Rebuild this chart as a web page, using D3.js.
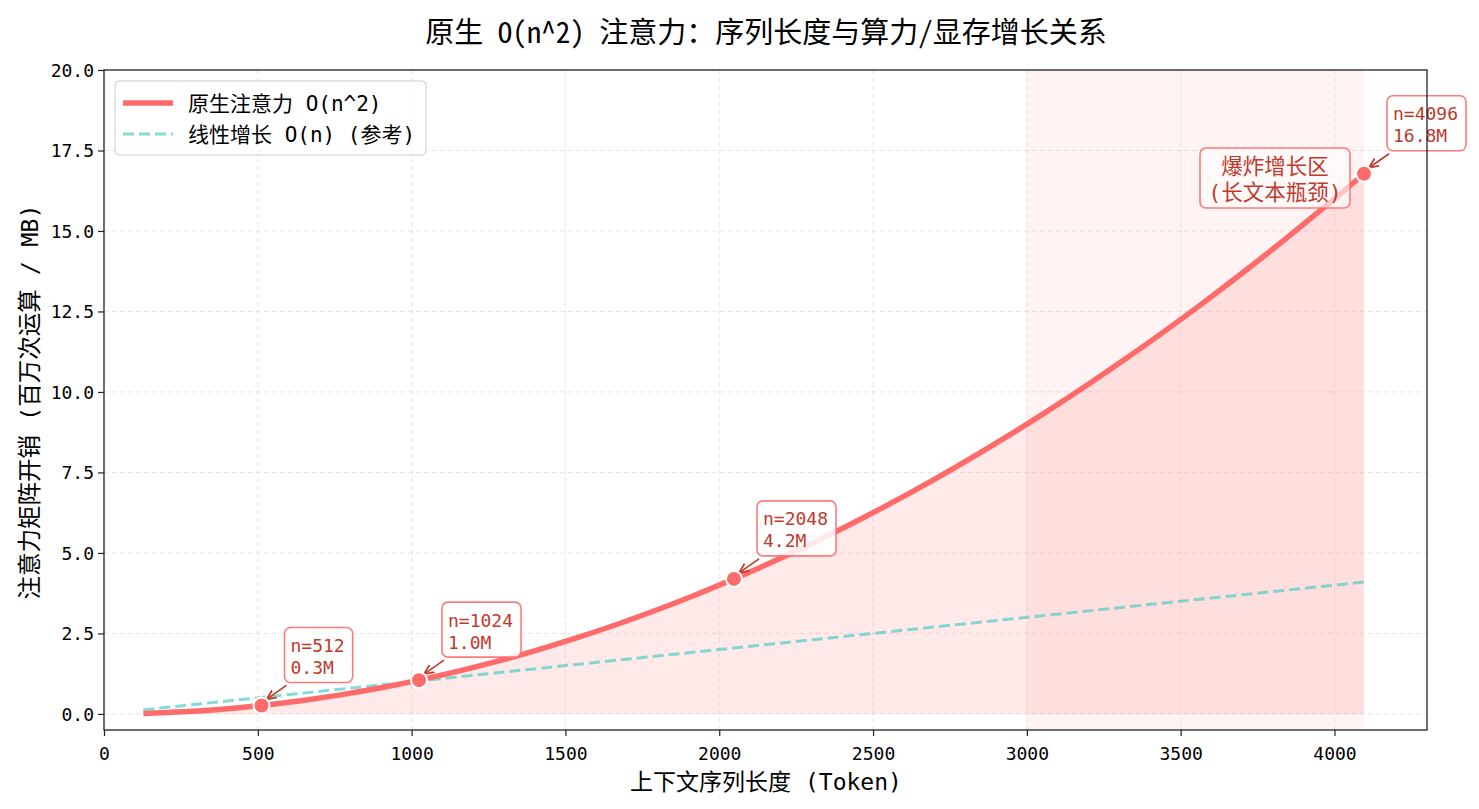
<!DOCTYPE html>
<html><head><meta charset="utf-8">
<script src="https://cdn.jsdelivr.net/npm/d3@7"></script>
<style>body{margin:0;background:#fff;} svg{font-family:"Noto Sans Mono CJK SC","Noto Sans CJK SC",sans-serif;}</style>
</head><body>
<svg id="c" width="1479" height="809"></svg>
<script>
const seqLens = [128,256,384,512,640,768,896,1024,1152,1280,1408,1536,1664,1792,1920,2048,2176,2304,2432,2560,2688,2816,2944,3072,3200,3328,3456,3584,3712,3840,3968,4096];
const quadCost = [0.016,0.066,0.147,0.262,0.410,0.590,0.803,1.049,1.327,1.638,1.983,2.359,2.769,3.211,3.686,4.194,4.735,5.308,5.915,6.554,7.225,7.930,8.667,9.437,10.240,11.076,11.944,12.845,13.779,14.746,15.745,16.777];
const linCost = [0.128,0.256,0.384,0.512,0.640,0.768,0.896,1.024,1.152,1.280,1.408,1.536,1.664,1.792,1.920,2.048,2.176,2.304,2.432,2.560,2.688,2.816,2.944,3.072,3.200,3.328,3.456,3.584,3.712,3.840,3.968,4.096];
const keyLens = [512,1024,2048,4096];
const keyCost = [0.262,1.049,4.194,16.777];
const keyLabels = ["0.3M","1.0M","4.2M","16.8M"];
const xTicks = [0,500,1000,1500,2000,2500,3000,3500,4000];
const yTicks = [0,2.5,5,7.5,10,12.5,15,17.5,20];
const spanRange = [3000,4096];
const spanLabel = ["爆炸增长区","(长文本瓶颈)"];
const legendLabels = ["原生注意力 O(n^2)","线性增长 O(n) (参考)"];

const svg = d3.select("#c");
const L=104,R=1427,T=70,B=730;
const x = d3.scaleLinear().domain([0,4300.8]).range([L,R]);
const y = d3.scaleLinear().domain([-0.5,20]).range([B,T]);
const red="#ff6b6b", teal="#4ecdc4", dark="#c0392b";
const monoFont = "'DejaVu Sans Mono','Noto Sans Mono CJK SC','Noto Sans CJK SC',monospace";

// span
svg.append("rect").attr("x",x(spanRange[0])).attr("y",T).attr("width",x(spanRange[1])-x(spanRange[0])).attr("height",B-T)
  .attr("fill",red).attr("fill-opacity",0.08);
// grid
const g=svg.append("g");
xTicks.forEach(t=>g.append("line").attr("x1",x(t)).attr("x2",x(t)).attr("y1",T).attr("y2",B).attr("stroke","#b0b0b0").attr("stroke-opacity",0.3).attr("stroke-dasharray","5,3"));
yTicks.forEach(t=>g.append("line").attr("x1",L).attr("x2",R).attr("y1",y(t)).attr("y2",y(t)).attr("stroke","#b0b0b0").attr("stroke-opacity",0.3).attr("stroke-dasharray","5,3"));
// fill
const pts = seqLens.map((n,i)=>({n,q:quadCost[i],l:linCost[i]}));
svg.append("path").datum(pts).attr("d",d3.area().x(d=>x(d.n)).y0(y(0)).y1(d=>y(d.q)).curve(d3.curveMonotoneX))
  .attr("fill",red).attr("fill-opacity",0.15);
// linear
svg.append("path").datum(pts).attr("d",d3.line().x(d=>x(d.n)).y(d=>y(d.l)))
  .attr("fill","none").attr("stroke",teal).attr("stroke-opacity",0.7).attr("stroke-width",3).attr("stroke-dasharray","11,5");
// quad
svg.append("path").datum(pts).attr("d",d3.line().x(d=>x(d.n)).y(d=>y(d.q)).curve(d3.curveMonotoneX))
  .attr("fill","none").attr("stroke",red).attr("stroke-width",5.5).attr("stroke-linecap","butt");

// arrow marker
const defs=svg.append("defs");
defs.append("marker").attr("id","ah").attr("viewBox","0 0 10 10").attr("refX",9).attr("refY",5).attr("orient","auto").attr("markerUnits","userSpaceOnUse")
  .attr("markerWidth",11).attr("markerHeight",11)
  .append("path").attr("d","M0,1 L9,5 L0,9").attr("fill","none").attr("stroke",dark).attr("stroke-width",1.6);

// annotations
keyLens.forEach((n,i)=>{
  const px=x(n), py=y(keyCost[i]);
  const tx=px+29, l1=py-60;
  const ag=svg.append("g");
  const t=ag.append("text").attr("fill",dark).attr("font-size",18).attr("font-family",monoFont);
  t.append("tspan").attr("x",tx).attr("y",l1).attr("dominant-baseline","central").text("n="+n);
  t.append("tspan").attr("x",tx).attr("y",l1+22).attr("dominant-baseline","central").text(keyLabels[i]);
  const bb=t.node().getBBox();
  ag.insert("rect","text").attr("x",tx-6).attr("y",l1-18).attr("width",bb.width+14).attr("height",55).attr("rx",6)
    .attr("fill","#fff").attr("fill-opacity",0.85).attr("stroke",red).attr("stroke-opacity",0.9).attr("stroke-width",1.6);
  ag.append("line").attr("x1",px+25).attr("y1",py-20).attr("x2",px+5).attr("y2",py-6)
    .attr("stroke",dark).attr("stroke-width",1.6).attr("marker-end","url(#ah)");
});
// points
svg.selectAll("circle.kp").data(keyLens).enter().append("circle").attr("cx",d=>x(d)).attr("cy",(d,i)=>y(keyCost[i])).attr("r",8)
  .attr("fill",red).attr("stroke","#fff").attr("stroke-width",2);

// span label
{
  const cx=1275;
  svg.append("rect").attr("x",1200).attr("y",148).attr("width",150).attr("height",60).attr("rx",6)
    .attr("fill","#fff").attr("fill-opacity",0.6).attr("stroke",red).attr("stroke-opacity",0.9).attr("stroke-width",1.6);
  const t=svg.append("text").attr("text-anchor","middle").attr("fill",dark).attr("font-size",21.5).attr("font-family",monoFont);
  spanLabel.forEach((s,j)=>t.append("tspan").attr("x",cx).attr("y",166+j*26).attr("dominant-baseline","central").text(s));
}

// axes frame
svg.append("rect").attr("x",L).attr("y",T).attr("width",R-L).attr("height",B-T).attr("fill","none").attr("stroke","#222").attr("stroke-width",1.3);
const xa=svg.append("g").attr("transform",`translate(0,${B})`).call(d3.axisBottom(x).tickValues(xTicks).tickSize(6).tickFormat(d3.format("d")));
const ya=svg.append("g").attr("transform",`translate(${L},0)`).call(d3.axisLeft(y).tickValues(yTicks).tickSize(6).tickFormat(d3.format(".1f")));
[xa,ya].forEach(a=>{a.select(".domain").remove();a.selectAll("line").attr("stroke","#222").attr("stroke-width",1.2);a.selectAll("text").attr("font-size",18).attr("fill","#000").attr("font-family",monoFont);});
xa.selectAll("text").attr("y",23).attr("dy",null).attr("dominant-baseline","central");
ya.selectAll("text").attr("x",-10).attr("dy",null).attr("dominant-baseline","central");

// labels
svg.append("text").attr("x",766).attr("y",30).attr("dominant-baseline","central").attr("text-anchor","middle").attr("font-size",29).attr("fill","#000").text("原生 O(n^2) 注意力：序列长度与算力/显存增长关系");
svg.append("text").attr("x",766).attr("y",782).attr("dominant-baseline","central").attr("text-anchor","middle").attr("font-size",23).attr("font-family",monoFont).attr("fill","#000").text("上下文序列长度 (Token)");
svg.append("text").attr("transform",`translate(30,${(T+B)/2 + 2}) rotate(-90)`).attr("dominant-baseline","central").attr("text-anchor","middle").attr("font-size",23.5).attr("font-family",monoFont).attr("fill","#000").text("注意力矩阵开销 (百万次运算 / MB)");

// legend
const lg=svg.append("g");
lg.append("rect").attr("x",115).attr("y",81).attr("width",311).attr("height",74).attr("rx",4).attr("fill","#fff").attr("fill-opacity",0.8).attr("stroke","#ccc");
lg.append("line").attr("x1",123).attr("x2",173).attr("y1",103).attr("y2",103).attr("stroke",red).attr("stroke-width",5.5);
lg.append("line").attr("x1",123).attr("x2",173).attr("y1",134).attr("y2",134).attr("stroke",teal).attr("stroke-opacity",0.7).attr("stroke-width",3).attr("stroke-dasharray","11,5");
legendLabels.forEach((s,i)=>lg.append("text").attr("x",188).attr("y",104+i*31).attr("dominant-baseline","central").attr("font-size",21).attr("font-family",monoFont).attr("fill","#000").text(s));
</script>
</body></html>
